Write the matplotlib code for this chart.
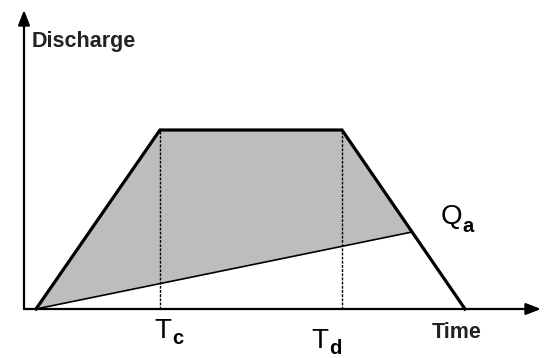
import matplotlib.pyplot as plt
from matplotlib.patches import Polygon

# hydrograph shape (time, discharge) in arbitrary units
hydro_t = [0.12, 1.36, 3.18, 4.41]
hydro_q = [0.0, 1.79, 1.79, 0.0]

# baseflow separation line, ends on the falling limb at Qa
base_t = [0.12, 3.88]
base_q = [0.0, 0.77]

# marked times
t_c = 1.36
t_d = 3.18

fig = plt.figure(figsize=(5.46, 3.58), dpi=100)
ax = fig.add_axes([0, 0, 1, 1])
ax.set_xlim(-0.24, 5.22)
ax.set_ylim(-0.49, 3.09)
ax.axis('off')

# shaded area between the hydrograph and the baseflow line
shade = [(base_t[0], base_q[0]), (hydro_t[1], hydro_q[1]), (hydro_t[2], hydro_q[2]),
         (base_t[1], base_q[1])]
ax.add_patch(Polygon(shade, closed=True, facecolor='#bdbdbd', edgecolor='none', zorder=1))

ax.plot(hydro_t, hydro_q, color='black', linewidth=2.3, solid_joinstyle='miter', zorder=3)
ax.plot(base_t, base_q, color='black', linewidth=1.2, zorder=3)

for t in (t_c, t_d):
    ax.plot([t, t], [0, hydro_q[1]], color='black', linewidth=1.0,
            linestyle=(0, (2, 1)), zorder=2)

# axes with arrows
arrow = dict(arrowstyle='-|>,head_length=0.9,head_width=0.35', color='black',
             linewidth=1.6, shrinkA=0, shrinkB=0)
ax.annotate('', xy=(0, 2.99), xytext=(0, 0), arrowprops=arrow, zorder=4)
ax.annotate('', xy=(5.17, 0), xytext=(0, 0), arrowprops=arrow, zorder=4)

bold = dict(family='Liberation Sans', fontweight='bold', fontsize=15.5, color='#222222')
ax.text(0.08, 2.67, 'Discharge', ha='left', va='center', **bold)
ax.text(4.08, -0.24, 'Time', ha='left', va='center', **bold)

big = dict(family='Liberation Sans', fontsize=20, color='black')
sub = dict(family='Liberation Sans', fontweight='bold', fontsize=14.5, color='black')
ax.text(1.30, -0.22, 'T', ha='left', va='center', **big)
ax.text(1.48, -0.30, 'c', ha='left', va='center', **sub)
ax.text(2.87, -0.32, 'T', ha='left', va='center', **big)
ax.text(3.05, -0.39, 'd', ha='left', va='center', **sub)
ax.text(4.17, 0.92, 'Q', ha='left', va='center', **big)
ax.text(4.38, 0.82, 'a', ha='left', va='center', **sub)

fig.savefig('out.png', dpi=100)
